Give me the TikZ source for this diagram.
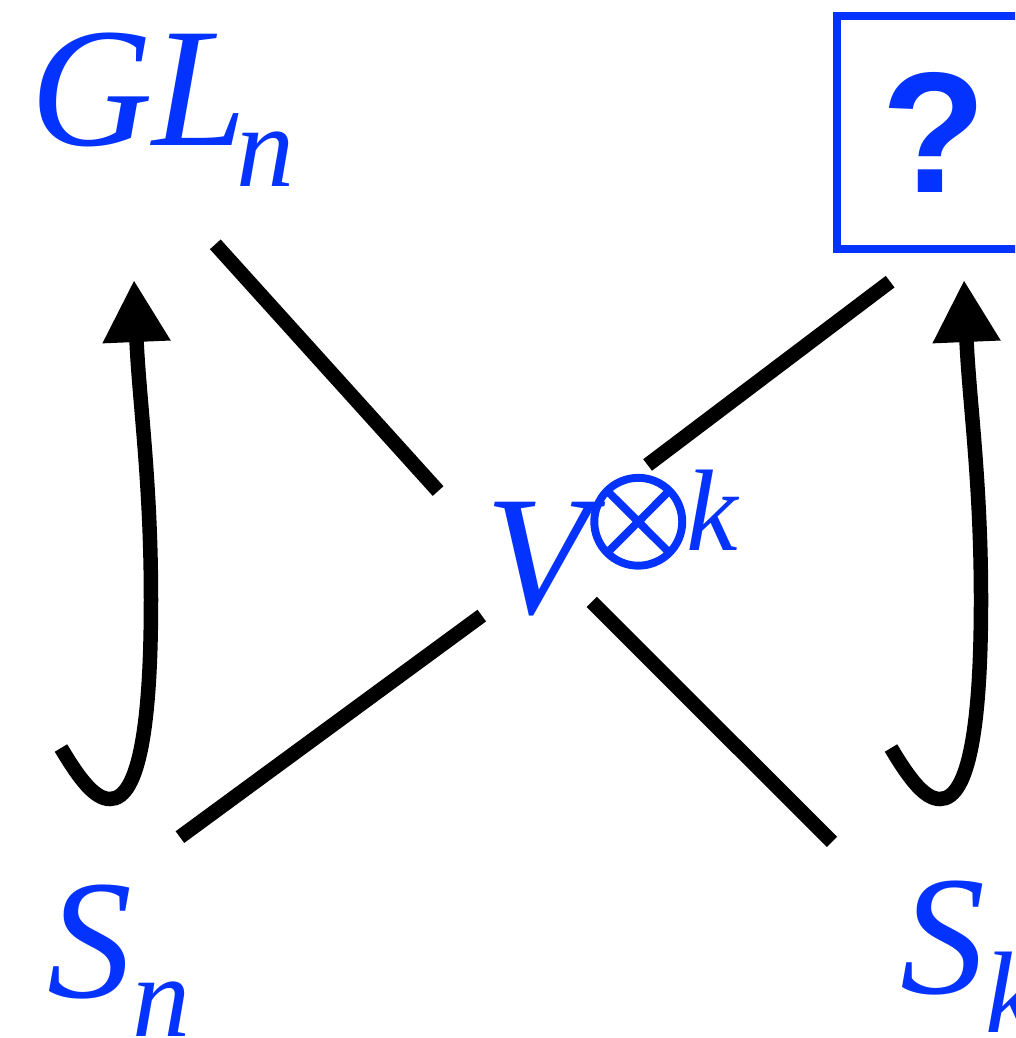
\RequirePackage{fix-cm}
\documentclass[tikz,border=0pt]{standalone}
\usepackage{fontspec}
\setmainfont{Liberation Serif}
\newfontfamily\qfont{Liberation Sans}
\usetikzlibrary{arrows.meta,calc}
\definecolor{diagblue}{RGB}{4,51,255}
\newcommand\lowsub[2]{\raisebox{-#1pt}{\fontsize{116}{130}\selectfont\itshape #2}}
\newcommand\heavyotimes{\special{pdf:code q 2 Tr 4.5 w}$\otimes$\special{pdf:code Q}}
\begin{document}
\begin{tikzpicture}[x=1pt,y=-1pt,
  lbl/.style={text=diagblue, inner sep=0pt, anchor=base west, align=left,
              font=\fontsize{170}{204}\selectfont\itshape},
  qbox/.style={draw=diagblue, line width=8pt, inner sep=0pt,
               minimum width=194pt, minimum height=232.5pt,
               text=diagblue, font=\fontsize{172}{200}\selectfont\qfont\bfseries},
  conn/.style={line width=14.5pt},
  curvarrow/.style={line width=14.5pt, -{Triangle[length=62pt,width=64pt]}}]
\clip (0,0) rectangle (1015,1038);
% labels
\node[lbl, text width=267pt, text height=113pt, text depth=41pt] (gl) at (30,146) {GL\kern-11pt\lowsub{41}{n}};
\node[lbl, text width=255pt, text height=140pt, text depth=0pt] (v) at (485,613)
  {V\kern-4pt\raisebox{57pt}{\fontsize{137}{150}\selectfont\heavyotimes}\kern-5pt\raisebox{63pt}{\fontsize{116}{130}\selectfont k}};
\node[lbl, text width=130pt, text height=110pt, text depth=40pt] (sn) at (47,997) {S\lowsub{39}{n}};
\node[lbl, text width=115pt, text height=110pt, text depth=40pt] (sk) at (900,993) {S\lowsub{39}{k}};
\node[qbox] (q) at (934,132.25) {?};
% connectors
\draw[conn, shorten <=77pt, shorten >=70pt] (gl.south) -- (v.west);
\draw[conn, shorten <=55pt, shorten >=13pt] ($(q.south)+(0,-4)$) -- ($(v.north west)!0.596!(v.north east)$);
\draw[conn, shorten <=84pt, shorten >=4pt] (sn.north) -- (v.south west);
\draw[conn, shorten <=58pt, shorten >=-16pt] ($(sk.north west)+(-27,0)$) -- ($(v.south west)+(118,0)$);
% curved arrows
\coordinate (lt) at (61,748);
\coordinate (lh) at (134,280);
\coordinate (rt) at (891,748);
\coordinate (rh) at (964,280);
\draw[curvarrow] (lt) .. controls (80,780) and (95,799) .. (110,799)
  .. controls (140,799) and (151,720) .. (151,600)
  .. controls (151,480) and (139,400) .. (lh);
\draw[curvarrow] (rt) .. controls (910,780) and (925,799) .. (940,799)
  .. controls (970,799) and (981,720) .. (981,600)
  .. controls (981,480) and (969,400) .. (rh);
\end{tikzpicture}
\end{document}
